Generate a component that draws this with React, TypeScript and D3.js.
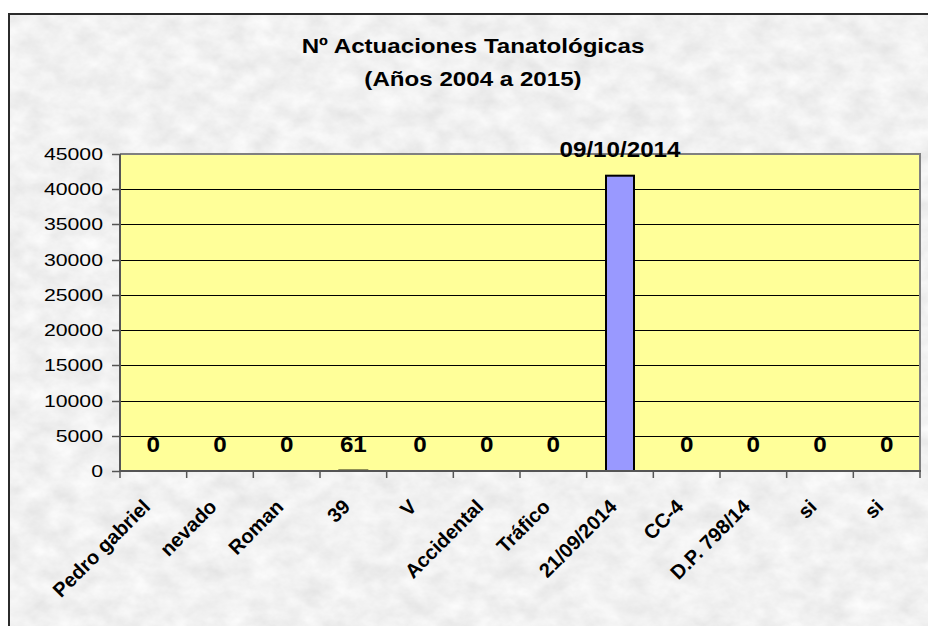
import React, { useEffect, useRef } from 'react';
import * as d3 from 'd3';

const categories = ['Pedro gabriel', 'nevado', 'Roman', '39', 'V', 'Accidental', 'Tráfico', '21/09/2014', 'CC-4', 'D.P. 798/14', 'si', 'si'];
const values = [0, 0, 0, 61, 0, 0, 0, 41921, 0, 0, 0, 0];
// number format of each cell as it was in the sheet
const formats = ['n', 'n', 'n', 'n', 'n', 'n', 'n', 'date', 'n', 'n', 'n', 'n'];
const yTicks = [0, 5000, 10000, 15000, 20000, 25000, 30000, 35000, 40000, 45000];
const titleLines = ['Nº Actuaciones Tanatológicas', '(Años 2004 a 2015)'];

const FONT = '"Liberation Sans", Arial, Helvetica, sans-serif';

function excelDate(serial: number) {
    const d = new Date(Date.UTC(1899, 11, 30) + serial * 86400000);
    return d3.utcFormat('%d/%m/%Y')(d);
}

function App() {
    const ref = useRef<SVGSVGElement>(null);

    useEffect(() => {
        document.body.style.overflow = 'hidden';
        const svg = d3.select(ref.current);
        svg.selectAll('*').remove();

        const width = 928;
        const height = 626;
        const plot = { left: 120, right: 920, top: 154, bottom: 471 };

        svg.attr('width', width).attr('height', height);

        // marble-like grey texture for the chart area
        const defs = svg.append('defs');
        const filter = defs.append('filter')
            .attr('id', 'marble')
            .attr('filterUnits', 'userSpaceOnUse')
            .attr('x', 8).attr('y', 13).attr('width', width - 8).attr('height', height - 13);
        filter.append('feTurbulence')
            .attr('type', 'fractalNoise')
            .attr('baseFrequency', '0.04 0.055')
            .attr('numOctaves', 4)
            .attr('seed', 7);
        filter.append('feColorMatrix')
            .attr('type', 'matrix')
            .attr('values', '0.24 0 0 0 0.76  0.24 0 0 0 0.76  0.24 0 0 0 0.76  0 0 0 0 1');

        svg.append('rect')
            .attr('x', 8).attr('y', 13)
            .attr('width', width - 8).attr('height', height - 13)
            .attr('fill', '#e2e2e2')
            .attr('filter', 'url(#marble)');
        // chart frame: only the left and top edges are inside the picture
        svg.append('path')
            .attr('d', `M9,${height}V14H${width}`)
            .attr('fill', 'none')
            .attr('stroke', '#2b2b2b')
            .attr('stroke-width', 2);

        // title
        svg.append('g')
            .selectAll('text')
            .data(titleLines)
            .enter()
            .append('text')
            .attr('transform', (d, i) => `translate(473, ${53 + i * 33}) scale(1.15, 1)`)
            .attr('text-anchor', 'middle')
            .attr('font-family', FONT)
            .attr('font-weight', 'bold')
            .attr('font-size', 21)
            .attr('fill', '#000')
            .text(d => d);

        const x = d3.scaleBand<number>()
            .domain(d3.range(categories.length))
            .range([plot.left, plot.right])
            .paddingInner(0.58)
            .paddingOuter(0.29);

        const y = d3.scaleLinear()
            .domain([0, 45000])
            .range([plot.bottom, plot.top]);

        // plot area
        svg.append('rect')
            .attr('x', plot.left).attr('y', plot.top)
            .attr('width', plot.right - plot.left)
            .attr('height', plot.bottom - plot.top)
            .attr('fill', '#ffff99');

        // gridlines
        svg.append('g')
            .selectAll('line')
            .data(yTicks.filter(t => t > 0 && t < 45000))
            .enter()
            .append('line')
            .attr('x1', plot.left).attr('x2', plot.right)
            .attr('y1', d => Math.round(y(d)) + 0.5)
            .attr('y2', d => Math.round(y(d)) + 0.5)
            .attr('stroke', '#000')
            .attr('stroke-width', 1);

        // plot border (top/right)
        svg.append('path')
            .attr('d', `M${plot.left},${plot.top}H${plot.right}V${plot.bottom}`)
            .attr('fill', 'none')
            .attr('stroke', '#808080')
            .attr('stroke-width', 2);

        // bars
        svg.append('g')
            .selectAll('rect')
            .data(values)
            .enter()
            .append('rect')
            .attr('x', (d, i) => x(i))
            .attr('y', d => y(d))
            .attr('width', x.bandwidth())
            .attr('height', d => Math.max(0, y(0) - y(d)))
            .attr('fill', '#9999ff')
            .attr('stroke', '#000')
            .attr('stroke-width', 2)
            .style('display', d => (d > 0 ? null : 'none'));

        // axes
        const axisColor = '#555';
        svg.append('line')
            .attr('x1', plot.left).attr('x2', plot.left)
            .attr('y1', plot.top).attr('y2', plot.bottom)
            .attr('stroke', axisColor).attr('stroke-width', 2);
        svg.append('line')
            .attr('x1', plot.left - 1).attr('x2', plot.right + 1)
            .attr('y1', plot.bottom).attr('y2', plot.bottom)
            .attr('stroke', axisColor).attr('stroke-width', 2);

        // y ticks + labels
        const yAxis = svg.append('g');
        yAxis.selectAll('line')
            .data(yTicks)
            .enter()
            .append('line')
            .attr('x1', plot.left - 8).attr('x2', plot.left)
            .attr('y1', d => Math.round(y(d)) + 0.5)
            .attr('y2', d => Math.round(y(d)) + 0.5)
            .attr('stroke', axisColor).attr('stroke-width', 1.5);
        yAxis.selectAll('text')
            .data(yTicks)
            .enter()
            .append('text')
            .attr('transform', d => `translate(103, ${y(d) + 6}) scale(1.25, 1)`)
            .attr('text-anchor', 'end')
            .attr('font-family', FONT)
            .attr('font-size', 17)
            .attr('fill', '#000')
            .text(d => d);

        // x ticks at category boundaries
        const step = x.step();
        svg.append('g')
            .selectAll('line')
            .data(d3.range(categories.length + 1))
            .enter()
            .append('line')
            .attr('x1', i => plot.left + i * step)
            .attr('x2', i => plot.left + i * step)
            .attr('y1', plot.bottom)
            .attr('y2', plot.bottom + 7)
            .attr('stroke', axisColor).attr('stroke-width', 1.5);

        // x category labels, rotated
        svg.append('g')
            .selectAll('text')
            .data(categories)
            .enter()
            .append('text')
            .attr('transform', (d, i) => `translate(${x(i) + x.bandwidth() / 2 - 2}, ${plot.bottom + 37}) rotate(-45)`)
            .attr('text-anchor', 'end')
            .attr('font-family', FONT)
            .attr('font-weight', 'bold')
            .attr('font-size', 20)
            .attr('fill', '#000')
            .text(d => d);

        // data labels
        svg.append('g')
            .selectAll('text')
            .data(values)
            .enter()
            .append('text')
            .attr('transform', (d, i) => `translate(${x(i) + x.bandwidth() / 2}, ${y(d) - 19}) scale(1.1, 1)`)
            .attr('text-anchor', 'middle')
            .attr('font-family', FONT)
            .attr('font-weight', 'bold')
            .attr('font-size', 22)
            .attr('fill', '#000')
            .text((d, i) => (formats[i] === 'date' ? excelDate(d) : String(d)));
    }, []);

    return (
        <svg ref={ref} style={{ position: 'absolute', left: 0, top: 0 }}></svg>
    );
}

export default App;
